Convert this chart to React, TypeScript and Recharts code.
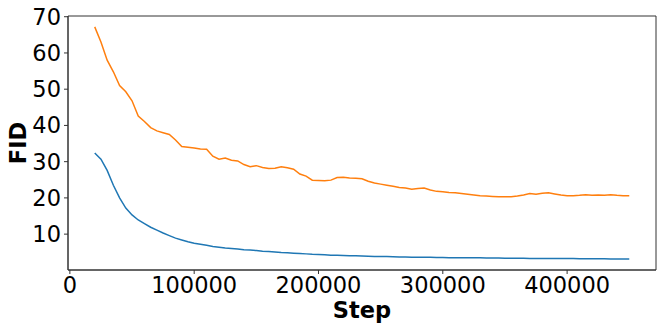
import React from "react";
import { LineChart, Line, XAxis, YAxis, ReferenceArea, Label } from "recharts";

const steps = [
  20000, 25000, 30000, 35000, 40000, 45000, 50000, 55000, 60000, 65000,
  70000, 75000, 80000, 85000, 90000, 95000, 100000, 105000, 110000, 115000,
  120000, 125000, 130000, 135000, 140000, 145000, 150000, 155000, 160000, 165000,
  170000, 175000, 180000, 185000, 190000, 195000, 200000, 205000, 210000, 215000,
  220000, 225000, 230000, 235000, 240000, 245000, 250000, 255000, 260000, 265000,
  270000, 275000, 280000, 285000, 290000, 295000, 300000, 305000, 310000, 315000,
  320000, 325000, 330000, 335000, 340000, 345000, 350000, 355000, 360000, 365000,
  370000, 375000, 380000, 385000, 390000, 395000, 400000, 405000, 410000, 415000,
  420000, 425000, 430000, 435000, 440000, 445000, 450000,
];

const fidBlue = [
  32.4, 30.7, 27.6, 23.5, 20.0, 17.2, 15.3, 13.9, 12.9, 11.9,
  11.1, 10.3, 9.6, 8.9, 8.4, 7.9, 7.5, 7.2, 6.9, 6.6,
  6.4, 6.2, 6.05, 5.9, 5.7, 5.6, 5.45, 5.3, 5.2, 5.1,
  4.95, 4.85, 4.75, 4.65, 4.55, 4.45, 4.4, 4.3, 4.2, 4.15,
  4.1, 4.05, 4.0, 3.95, 3.9, 3.85, 3.85, 3.8, 3.75, 3.7,
  3.7, 3.65, 3.65, 3.6, 3.6, 3.55, 3.55, 3.5, 3.5, 3.5,
  3.45, 3.45, 3.45, 3.4, 3.4, 3.4, 3.35, 3.35, 3.35, 3.35,
  3.3, 3.3, 3.3, 3.3, 3.3, 3.25, 3.25, 3.25, 3.2, 3.2,
  3.2, 3.2, 3.2, 3.15, 3.15, 3.15, 3.15,
];

const fidOrange = [
  67.2, 63.0, 58.0, 54.8, 51.0, 49.3, 46.8, 42.6, 41.1, 39.4,
  38.5, 38.0, 37.5, 36.0, 34.2, 34.0, 33.8, 33.5, 33.4, 31.5,
  30.7, 31.0, 30.4, 30.2, 29.2, 28.6, 28.9, 28.4, 28.1, 28.2,
  28.6, 28.3, 27.9, 26.6, 26.0, 24.9, 24.8, 24.7, 24.9, 25.6,
  25.7, 25.5, 25.4, 25.3, 24.6, 24.1, 23.8, 23.5, 23.2, 22.9,
  22.7, 22.4, 22.6, 22.7, 22.2, 21.8, 21.7, 21.5, 21.4, 21.2,
  21.0, 20.8, 20.6, 20.5, 20.4, 20.3, 20.3, 20.3, 20.5, 20.8,
  21.2, 21.0, 21.3, 21.4, 21.1, 20.8, 20.6, 20.6, 20.7, 20.9,
  20.7, 20.8, 20.7, 20.9, 20.7, 20.6, 20.6,
];

const xTicks = [0, 100000, 200000, 300000, 400000];
const yTicks = [10, 20, 30, 40, 50, 60, 70];
const xLabel = "Step";
const yLabel = "FID";

const data = steps.map((s, i) => ({ step: s, a: fidBlue[i], b: fidOrange[i] }));

const FONT = "DejaVu Sans";
const X_DOMAIN: [number, number] = [-1500, 471500];
const Y_DOMAIN: [number, number] = [0.1, 70.2];

export default function App() {
  return (
    <div style={{ position: "absolute", left: 0, top: 0, width: 664, height: 332, background: "#fff" }}>
      <LineChart
        width={664}
        height={332}
        data={data}
        margin={{ top: 16, right: 8, left: 0, bottom: 0 }}
      >
        <XAxis
          dataKey="step"
          type="number"
          domain={X_DOMAIN}
          allowDataOverflow
          ticks={xTicks}
          interval={0}
          height={62}
          tickSize={4}
          tickMargin={3}
          stroke="#333"
          tick={{ fill: "#000", fontSize: 22.5, fontFamily: FONT }}
        >
          <Label
            content={(props: any) => {
              const vb = props.viewBox || {};
              const cx = (vb.x ?? 68) + (vb.width ?? 588) / 2;
              return (
                <text x={cx} y={318} textAnchor="middle" fontSize={22.5} fontWeight="bold" fontFamily={FONT} fill="#000">
                  {xLabel}
                </text>
              );
            }}
          />
        </XAxis>
        <YAxis
          type="number"
          domain={Y_DOMAIN}
          allowDataOverflow
          ticks={yTicks}
          interval={0}
          width={68}
          tickSize={4}
          tickMargin={3}
          stroke="#333"
          tick={{ fill: "#000", fontSize: 22.5, fontFamily: FONT }}
        >
          <Label
            content={(props: any) => {
              const vb = props.viewBox || {};
              const cy = (vb.y ?? 16) + (vb.height ?? 254) / 2;
              return (
                <text
                  x={26}
                  y={cy}
                  transform={`rotate(-90, 26, ${cy})`}
                  textAnchor="middle"
                  fontSize={22.5}
                  fontWeight="bold"
                  fontFamily={FONT}
                  fill="#000"
                >
                  {yLabel}
                </text>
              );
            }}
          />
        </YAxis>
        <ReferenceArea
          x1={X_DOMAIN[0]}
          x2={X_DOMAIN[1]}
          y1={Y_DOMAIN[0]}
          y2={Y_DOMAIN[1]}
          fill="none"
          fillOpacity={0}
          stroke="#333"
          strokeWidth={1}
          ifOverflow="visible"
        />
        <Line type="linear" dataKey="a" stroke="#1f77b4" strokeWidth={1.5} dot={false} isAnimationActive={false} />
        <Line type="linear" dataKey="b" stroke="#ff7f0e" strokeWidth={1.5} dot={false} isAnimationActive={false} />
      </LineChart>
    </div>
  );
}
